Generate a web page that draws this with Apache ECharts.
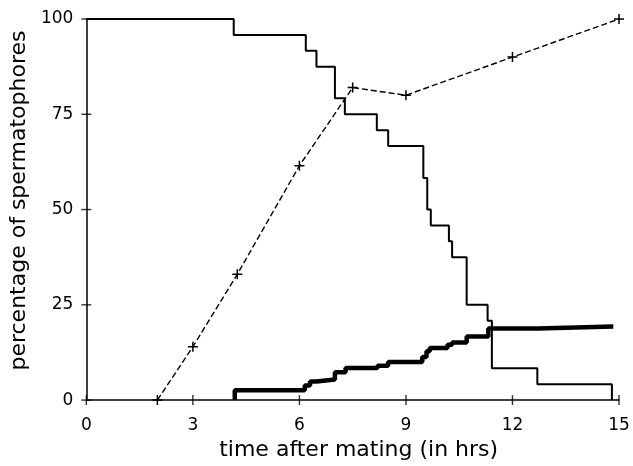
<!DOCTYPE html>
<html>
<head>
<meta charset="utf-8">
<script src="https://cdn.jsdelivr.net/npm/echarts@6/dist/echarts.min.js"></script>
<style>
  html, body { margin: 0; padding: 0; background: #fff; }
  #chart { width: 633px; height: 466px; }
</style>
</head>
<body>
<div id="chart"></div>
<script>
// spermatophores remaining (thin step line)
var remainX = [0, 4.15, 6.18, 6.48, 7.0, 7.28, 8.18, 8.5, 9.49, 9.6, 9.7, 10.21, 10.3, 10.71, 11.3, 11.42, 12.7, 14.8];
var remainY = [100, 95.8, 91.7, 87.5, 79.2, 75, 70.8, 66.7, 58.3, 50, 45.8, 41.7, 37.5, 25, 20.8, 8.33, 4.17, 0];

// cumulative (thick step line)
var thickX = [4.18, 4.18, 6.15, 6.3, 6.48, 7.0, 7.3, 8.2, 8.5, 9.46, 9.58, 9.67, 10.17, 10.3, 10.71, 11.32, 12.7, 14.84];
var thickY = [0, 2.6, 3.8, 4.9, 5.4, 7.3, 8.4, 9.0, 10.0, 11.3, 12.8, 13.7, 14.5, 15.1, 16.7, 18.8, 19.3, 19.3];

// dashed line with + markers
var dashX = [2, 3, 4.25, 6, 7.5, 9, 12, 15];
var dashY = [0, 14, 33, 61.5, 82, 80, 90, 100];

var xTicks = [0, 3, 6, 9, 12, 15];
var yTicks = [0, 25, 50, 75, 100];

function zip(a, b) {
  return a.map(function (v, i) { return [v, b[i]]; });
}

var font = 'DejaVu Sans';
var chart = echarts.init(document.getElementById('chart'), null, { renderer: 'canvas' });

chart.setOption({
  backgroundColor: '#fff',
  animation: false,
  grid: { left: 85, right: 14, top: 19, bottom: 64 },
  xAxis: {
    type: 'value',
    min: 0, max: 15, interval: 3,
    splitLine: { show: false },
    axisLine: { lineStyle: { color: '#000', width: 1.5 } },
    axisTick: { show: false },
    axisLabel: { margin: 17, color: '#000', fontFamily: font, fontSize: 17 },
    name: 'time after mating (in hrs)',
    nameLocation: 'middle',
    nameGap: 27,
    nameTextStyle: { color: '#000', fontFamily: font, fontSize: 22, padding: [0, 0, 0, 12] }
  },
  yAxis: {
    type: 'value',
    min: 0, max: 100, interval: 25,
    splitLine: { show: false },
    axisLine: { show: true, lineStyle: { color: '#000', width: 1.5 } },
    axisTick: { show: false },
    axisLabel: { margin: 13, color: '#000', fontFamily: font, fontSize: 17 },
    name: 'percentage of spermatophores',
    nameLocation: 'middle',
    nameGap: 45,
    nameRotate: 90,
    nameTextStyle: { color: '#000', fontFamily: font, fontSize: 22, padding: [0, 0, 0, 18] }
  },
  series: [
    {
      type: 'line',
      step: 'end',
      data: zip(remainX, remainY),
      showSymbol: false,
      lineStyle: { color: '#000', width: 2 }
    },
    {
      type: 'line',
      step: 'end',
      data: zip(thickX, thickY),
      showSymbol: false,
      lineStyle: { color: '#000', width: 4.5 }
    },
    {
      type: 'line',
      data: zip(dashX, dashY),
      symbol: 'path://M0,5L10,5M5,0L5,10',
      symbolSize: 10,
      itemStyle: { color: 'rgba(0,0,0,0)', borderColor: '#000', borderWidth: 1.5 },
      lineStyle: { color: '#000', width: 1.4, type: [6, 3] }
    },
    // ticks crossing the axes
    {
      type: 'scatter',
      data: xTicks.map(function (t) { return [t, 0]; }),
      symbol: 'rect',
      symbolSize: [1.4, 10],
      itemStyle: { color: '#000' },
      clip: false,
      silent: true
    },
    {
      type: 'scatter',
      data: yTicks.map(function (t) { return [0, t]; }),
      symbol: 'rect',
      symbolSize: [10, 1.4],
      itemStyle: { color: '#000' },
      clip: false,
      silent: true
    }
  ]
});
</script>
</body>
</html>
